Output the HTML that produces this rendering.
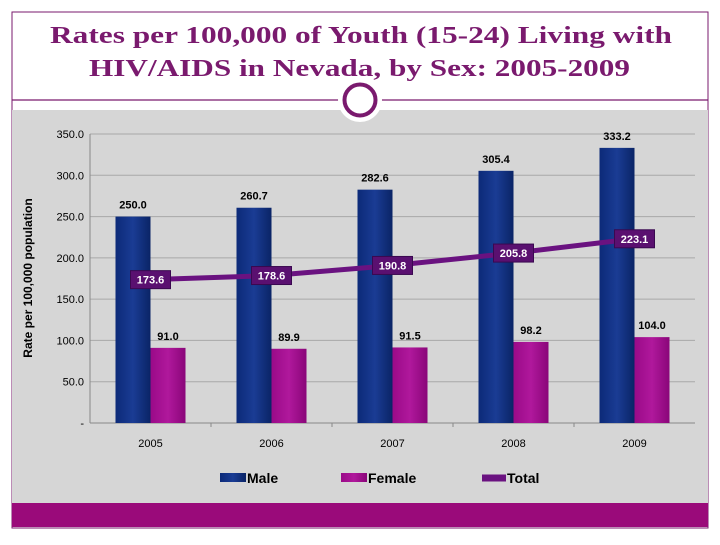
<!DOCTYPE html>
<html><head><meta charset="utf-8"><style>
body{margin:0;width:720px;height:540px;background:#fff;overflow:hidden;font-family:"Liberation Sans",sans-serif}
</style></head><body>
<svg width="720" height="540" xmlns="http://www.w3.org/2000/svg">
<defs>
<linearGradient id="gm" x1="0" x2="1"><stop offset="0" stop-color="#0c2a78"/><stop offset="0.5" stop-color="#1a3c94"/><stop offset="1" stop-color="#0a2466"/></linearGradient>
<linearGradient id="gf" x1="0" x2="1"><stop offset="0" stop-color="#9a0a88"/><stop offset="0.5" stop-color="#b0189c"/><stop offset="1" stop-color="#8a0679"/></linearGradient>
</defs>
<rect x="12" y="12" width="696" height="516" fill="#fff" stroke="#7a1a6e" stroke-width="1"/>
<g font-family="'Liberation Serif',serif" font-weight="bold" font-size="24" fill="#7a1a6e">
<text x="50" y="43" textLength="622" lengthAdjust="spacingAndGlyphs">Rates per 100,000 of Youth (15-24) Living with</text>
<text x="89" y="76" textLength="541" lengthAdjust="spacingAndGlyphs">HIV/AIDS in Nevada, by Sex: 2005-2009</text>
</g>
<line x1="12" y1="100" x2="708" y2="100" stroke="#7a1a6e" stroke-width="1.2"/>
<rect x="12" y="110" width="696" height="393" fill="#d6d6d6"/>
<rect x="12" y="503" width="696" height="24" fill="#9a0a7a"/>
<circle cx="360" cy="100" r="22" fill="#fff"/>
<circle cx="360" cy="100" r="15.5" fill="#fff" stroke="#7a1a6e" stroke-width="4"/>
<g id="plot"></g>
<g font-size="14" font-weight="bold" fill="#000">
<rect x="220" y="473" width="26" height="9" fill="url(#gm)"/>
<text x="247" y="483">Male</text>
<rect x="341" y="473" width="26" height="9" fill="url(#gf)"/>
<text x="368" y="483">Female</text>
<line x1="482" y1="478" x2="506" y2="478" stroke="#6a1280" stroke-width="7"/>
<text x="507" y="483">Total</text>
</g>
</svg>
<script>
const categories=["2005","2006","2007","2008","2009"];
const male=[250.0,260.7,282.6,305.4,333.2];
const female=[91.0,89.9,91.5,98.2,104.0];
const total=[173.6,178.6,190.8,205.8,223.1];
const yTicks=[0,50,100,150,200,250,300,350];
const NS="http://www.w3.org/2000/svg";
const plot=document.getElementById('plot');
const X0=90,X1=695,Y0=423,Y350=134;
const y=v=>Y0-(v/350)*(Y0-Y350);
const band=(X1-X0)/categories.length;
const cx=i=>X0+band*(i+0.5);
function mk(t,a,txt){const e=document.createElementNS(NS,t);for(const k in a)e.setAttribute(k,a[k]);if(txt!==undefined)e.textContent=txt;plot.appendChild(e);return e;}
yTicks.forEach(v=>{
 if(v>0){const g=mk('line',{x1:X0,x2:X1,y1:y(v),y2:y(v),stroke:'#a8a8a8','stroke-width':1});
 
 }
 const t=mk('text',{x:84,y:y(v)+4,'text-anchor':'end','font-size':11,fill:'#000'},v===0?'-':v.toFixed(1));
 
 
});
const ax=mk('line',{x1:X0,x2:X0,y1:Y350,y2:Y0,stroke:'#888'});


const xa=mk('line',{x1:X0,x2:X1,y1:Y0,y2:Y0,stroke:'#888'});


const yt=mk('text',{x:0,y:0,transform:'translate(32,278) rotate(-90)','text-anchor':'middle','font-size':12,'font-weight':'bold'},'Rate per 100,000 population');


const bw=35;
categories.forEach((c,i)=>{
 const m=mk('rect',{x:cx(i)-bw,y:y(male[i]),width:bw,height:Y0-y(male[i]),fill:'url(#gm)'});
 
 
 const f=mk('rect',{x:cx(i),y:y(female[i]),width:bw,height:Y0-y(female[i]),fill:'url(#gf)'});
 
 
 const ml=mk('text',{x:cx(i)-bw/2,y:y(male[i])-8,'text-anchor':'middle','font-size':11,'font-weight':'bold'},male[i].toFixed(1));
 
 
 const fl=mk('text',{x:cx(i)+bw/2,y:y(female[i])-8,'text-anchor':'middle','font-size':11,'font-weight':'bold'},female[i].toFixed(1));
 
 
 const xl=mk('text',{x:cx(i),y:Y0+24,'text-anchor':'middle','font-size':11},c);
 
 
 if(i>0){const tk=mk('line',{x1:X0+band*i,x2:X0+band*i,y1:Y0,y2:Y0+4,stroke:'#888'});
 
 }
});
const pl=mk('polyline',{points:total.map((v,i)=>cx(i)+','+y(v)).join(' '),fill:'none',stroke:'#6a1280','stroke-width':5});


total.forEach((v,i)=>{
 const r=mk('rect',{x:cx(i)-20,y:y(v)-9,width:40,height:18,fill:'#5a1070',stroke:'#3a0850'});
 
 
 const t=mk('text',{x:cx(i),y:y(v)+4,'text-anchor':'middle','font-size':11,'font-weight':'bold',fill:'#fff'},v.toFixed(1));
 
 
});
</script>
</body></html>
